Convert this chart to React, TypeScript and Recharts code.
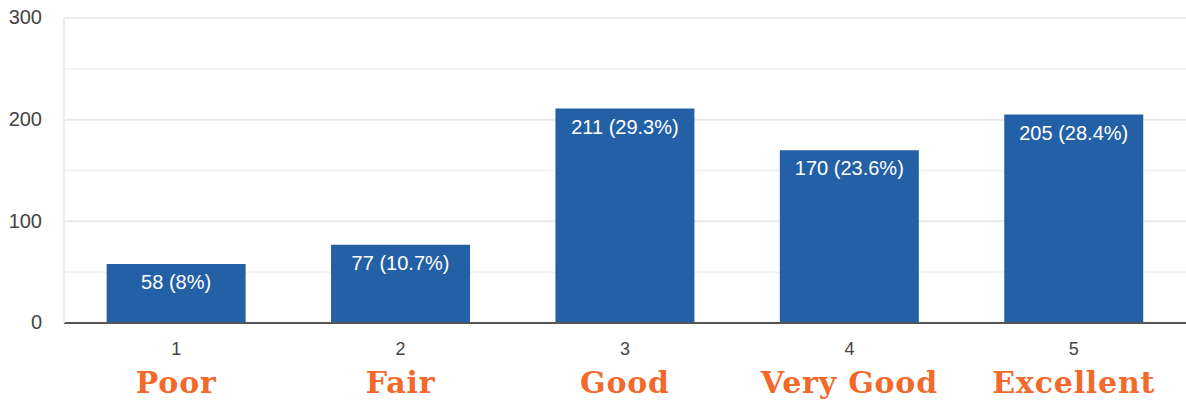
import { BarChart, Bar, XAxis, YAxis, CartesianGrid, LabelList } from "recharts";

const ratings = ["1", "2", "3", "4", "5"];
const ratingNames = ["Poor", "Fair", "Good", "Very Good", "Excellent"];
const counts = [58, 77, 211, 170, 205];
const shares = ["8%", "10.7%", "29.3%", "23.6%", "28.4%"];
const yTicks = [0, 50, 100, 150, 200, 250, 300];

const data = ratings.map((r, i) => ({ rating: r, count: counts[i], share: shares[i] }));

const XTick = (props: any) => {
  const { x, y, payload, index } = props;
  return (
    <g>
      <text x={x} y={y + 19} textAnchor="middle" dominantBaseline="middle" fontFamily="Liberation Sans, Arial, sans-serif" fontSize={18} fill="#444">
        {payload.value}
      </text>
      <text x={x} y={y + 62} textAnchor="middle" fontFamily="DejaVu Serif, serif" fontWeight="bold" fontSize={30} fill="#f2692b" letterSpacing={0.8}>
        {ratingNames[index]}
      </text>
    </g>
  );
};

const YTick = (props: any) => {
  const { y, payload } = props;
  if (payload.value % 100 !== 0) return null;
  return (
    <text x={42} y={y + 1} textAnchor="end" dominantBaseline="middle" fontFamily="Liberation Sans, Arial, sans-serif" fontSize={20} fill="#444">
      {payload.value}
    </text>
  );
};

const BarLabel = (props: any) => {
  const { x, y, width, index } = props;
  return (
    <text x={x + width / 2} y={y + 20} textAnchor="middle" dominantBaseline="middle" fontFamily="Liberation Sans, Arial, sans-serif" fontSize={20} fill="#fff">
      {`${counts[index]} (${shares[index]})`}
    </text>
  );
};

const App = () => {
  return (
    <div style={{ position: "absolute", left: 0, top: 0 }}>
      <BarChart width={1186} height={402} data={data} margin={{ top: 18, right: 0, left: 0, bottom: 0 }} barCategoryGap="19%">
        <CartesianGrid vertical={false} horizontalValues={[50, 150, 250]} stroke="#f3f3f3" strokeWidth={2} />
        <CartesianGrid vertical={false} horizontalValues={[100, 200, 300]} stroke="#e9e9e9" strokeWidth={2} />
        <XAxis dataKey="rating" height={79} axisLine={{ stroke: "#555", strokeWidth: 2 }} tickLine={false} tick={<XTick />} interval={0} />
        <YAxis domain={[0, 300]} ticks={yTicks} width={64} axisLine={{ stroke: "#ececec", strokeWidth: 2 }} tickLine={false} tick={<YTick />} interval={0} />
        <Bar dataKey="count" fill="#2460a5" isAnimationActive={false}>
          <LabelList dataKey="count" content={<BarLabel />} />
        </Bar>
      </BarChart>
    </div>
  );
};

export default App;
